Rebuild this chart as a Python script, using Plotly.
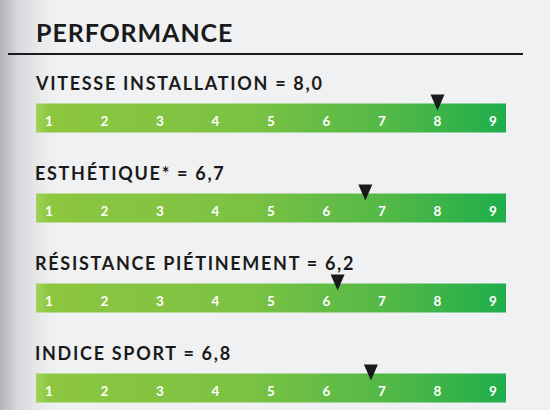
import plotly.graph_objects as go

# ---- data ----
heading = "PERFORMANCE"
metrics = ["VITESSE INSTALLATION", "ESTHÉTIQUE*", "RÉSISTANCE PIÉTINEMENT", "INDICE SPORT"]
scores = [8.0, 6.7, 6.2, 6.8]
scale_ticks = [1, 2, 3, 4, 5, 6, 7, 8, 9]

# ---- geometry / style ----
W, H = 550, 410
PX_X = 55.5            # pixels per scale unit
X_FIRST = 49           # pixel of first tick
PX_Y = 90              # pixels per row
ROW0 = 118             # pixel of first row centre
xr = [scale_ticks[0] - X_FIRST / PX_X, scale_ticks[0] + (W - X_FIRST) / PX_X]
yr = [(H - ROW0) / PX_Y, -ROW0 / PX_Y]

pad = 13 / PX_X
lo, hi = scale_ticks[0] - pad, scale_ticks[-1] + pad
half_h = 14.5 / PX_Y

bar_scale = [[0.0, "#a3d257"], [0.03, "#8dc63f"], [0.45, "#7bc243"],
             [0.75, "#52b847"], [1.0, "#1fae4b"]]
dark = "#1b1a1a"
FONT = "Lato"

fig = go.Figure()

# left page shadow
sx1 = xr[0] + 60 / PX_X
fig.add_trace(go.Scatter(
    x=[xr[0], sx1, sx1, xr[0], xr[0]],
    y=[yr[0], yr[0], yr[1], yr[1], yr[0]],
    mode="lines", line=dict(width=0), fill="toself",
    fillgradient=dict(type="horizontal", start=xr[0], stop=sx1,
                      colorscale=[[0, "#b2b4b7"], [0.3, "#d6d8db"], [0.7, "#eaebed"], [1, "#f0f1f3"]]),
    hoverinfo="skip", showlegend=False))

for i, (name, v) in enumerate(zip(metrics, scores)):
    # gradient bar
    fig.add_trace(go.Scatter(
        x=[lo, hi, hi, lo, lo],
        y=[i - half_h, i - half_h, i + half_h, i + half_h, i - half_h],
        mode="lines", line=dict(width=0), fill="toself",
        fillgradient=dict(type="horizontal", start=lo, stop=hi, colorscale=bar_scale),
        hoverinfo="skip", showlegend=False))
    # tick numbers
    fig.add_trace(go.Scatter(
        x=scale_ticks, y=[i + 4.5 / PX_Y] * len(scale_ticks),
        mode="text", text=[str(t) for t in scale_ticks],
        textfont=dict(family=FONT, size=13.5, color="white", weight="bold"),
        hoverinfo="skip", showlegend=False))
    # marker triangle
    hw = 7 / PX_X
    top = i - half_h - 9 / PX_Y
    tip = i - half_h + 7 / PX_Y
    fig.add_trace(go.Scatter(
        x=[v - hw, v + hw, v, v - hw], y=[top, top, tip, top],
        mode="lines", line=dict(width=0, color=dark), fill="toself", fillcolor=dark,
        hoverinfo="skip", showlegend=False))
    # label
    label = f"{name} = {v:.1f}".replace(".", ",")
    fig.add_annotation(
        x=lo - 3 / PX_X, y=i - 35.5 / PX_Y, xref="x", yref="y", xanchor="left", yanchor="middle",
        text=f'<span style="letter-spacing:1.7px">{label}</span>', showarrow=False,
        font=dict(family=FONT, size=18, color=dark, weight="bold"))

fig.add_annotation(
    x=34 / W, y=1 - 32 / H, xref="paper", yref="paper", xanchor="left", yanchor="middle",
    text=f'<span style="letter-spacing:0.9px">{heading}</span>', showarrow=False,
    font=dict(family=FONT, size=25, color=dark, weight="bold"))
fig.add_shape(type="line", xref="paper", yref="paper",
              x0=8 / W, x1=523 / W, y0=1 - 54 / H, y1=1 - 54 / H,
              line=dict(color=dark, width=2))

fig.update_xaxes(range=xr, visible=False, fixedrange=True)
fig.update_yaxes(range=yr, visible=False, fixedrange=True)
fig.update_layout(width=W, height=H, margin=dict(l=0, r=0, t=0, b=0),
                  paper_bgcolor="#f0f1f3", plot_bgcolor="#f0f1f3", showlegend=False)

fig.write_html("out.html")
